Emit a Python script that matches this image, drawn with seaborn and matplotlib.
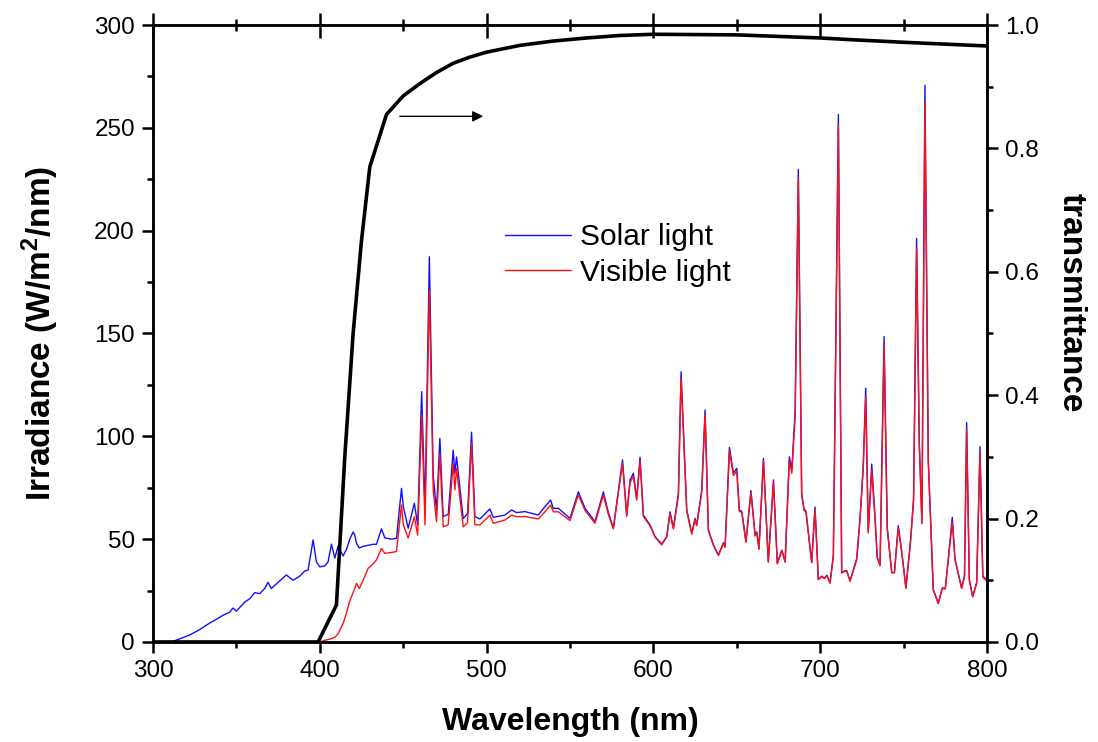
import matplotlib
matplotlib.use("Agg")
import matplotlib.pyplot as plt
from matplotlib.ticker import MultipleLocator
import numpy as np
import pandas as pd
import seaborn as sns

# Lamp spectrum (W/m^2/nm): unfiltered ("Solar light") and filtered ("Visible light")
wavelength = [
    300, 311, 316, 322, 328, 334, 338, 342, 346, 348, 350, 355, 358, 361, 364,
    367, 369, 371, 375, 380, 384, 388, 391, 393, 396, 398, 400, 403, 405, 407,
    409, 411, 414, 416, 418, 420, 421, 422, 423.7, 426, 429, 432, 434, 437, 439,
    443, 446, 449, 450.1, 453, 456.7, 458.7, 461.1, 463.1, 465.7, 468, 470, 472,
    474, 477, 480, 481, 482, 486, 488.6, 491, 493, 496, 502, 504, 511, 515, 518,
    523, 531, 535, 538.4, 540, 543, 550, 555, 559, 565, 570, 573, 576, 581.5,
    584, 586, 588, 590, 592, 594, 598, 601, 605, 608, 610, 612, 615, 616.6, 620,
    623, 625, 626, 629, 631, 633, 636, 639, 642, 643, 645.6, 648, 650, 651.5,
    653, 655.5, 658.5, 661, 662, 663.3, 666, 668.9, 672, 674.3, 677, 679, 681.5,
    683, 685, 686.9, 688.9, 690.3, 691.5, 694.9, 696.9, 698.9, 701, 702.5, 704,
    705.9, 707.9, 710.9, 712.9, 714.5, 715.9, 717.9, 721.9, 723.9, 725.8, 727.3,
    728.8, 730.9, 732.9, 734.2, 735.9, 738.3, 740.2, 742.9, 744.5, 746.8, 748.9,
    751.4, 754.3, 756, 757.8, 759.4, 761, 762.8, 764.8, 767.8, 770.8, 773.2, 775,
    776.8, 779.2, 780.8, 784.8, 786.5, 787.8, 789.4, 791.4, 793.8, 795.8, 797.5,
    800,
]
solar_light = [
    0, 0, 1.5, 3.4, 6, 9.2, 11, 13, 14.5, 16.5, 15, 19.4, 21, 24, 23.5,
    26, 29, 26, 29, 32.6, 30, 32, 34.5, 35, 49.6, 39, 36.5, 37, 39, 47.6,
    40.8, 46.7, 41.8, 45, 50, 53.5, 52, 48, 45.7, 46.5, 47, 47.5, 47.5, 55, 50.6,
    50, 50.4, 74.7, 65.8, 55.3, 67.4, 56.9, 121.7, 64.2, 187.3, 81, 64, 99,
    61, 62, 93.3, 82, 90, 60, 62.5, 102, 61, 59.8, 64.7, 60.6, 61.7, 64.2, 62.9,
    63.4, 61.7, 65.8, 69, 65, 65, 60.1, 73, 65, 58.5, 73, 63, 55.3, 88.5,
    61.7, 78.8, 82, 69.8, 89.8, 61.7, 56.9, 51.2, 47.6, 51.2, 63.3, 55.3, 72.3, 131.4, 64.2,
    52.8, 60.1, 57, 73.9, 112.8, 54.4, 47.2, 42.3, 48.3, 46.5, 94.6, 82, 84.4, 64.2,
    63.5, 48.8, 73.6, 52, 53.5, 45.5, 89.3, 39, 78.8, 38.3, 44.7, 39, 90,
    84, 112.5, 229.7, 72.3, 64.8, 63.5, 38.8, 65.6, 30.5, 32, 31, 32.5,
    28.8, 42.2, 256.5, 33.8, 34.5, 34.7, 29.7, 40.5, 60.6, 85.7, 123.4,
    53.9, 86.5, 60.6, 41.3, 37.2, 148.5, 55.6, 33.8, 33.8, 56.5, 43.9,
    26.3, 50.6, 70, 196.2, 97.4, 58.1, 270.7, 89, 25.5, 18.8, 26.3, 26,
    40.5, 60.6, 40.5, 26.3, 32, 106.7, 30.5, 22.1, 28.8, 95, 32,
    30,
]
visible_light = [
    0, 0, 0, 0, 0, 0, 0, 0, 0, 0, 0, 0, 0, 0, 0,
    0, 0, 0, 0, 0, 0, 0, 0, 0, 0, 0, 0, 0.8, 1.2, 1.6,
    2.3, 4, 9, 14, 20, 24, 26, 28.5, 26, 30, 35.8, 38, 39.9, 45.5, 43.1,
    43.5, 44, 66.6, 56.9, 50.6, 60.9, 52, 110.4, 56.9, 171, 74, 58.5, 91.7,
    56, 57, 86.9, 74, 84.4, 56, 58, 96.6, 57, 56.9, 61.7, 57.7, 59.3, 61.7, 60.9,
    61, 59.8, 63.3, 66.6, 63.3, 63.3, 59, 71.5, 64, 57.7, 71.5, 62, 55, 86.9,
    61, 77.5, 80.5, 69, 88, 61, 56.5, 51, 47.2, 51, 62.5, 55, 71, 128.5, 63.5,
    52.5, 59.5, 56.5, 73, 110.5, 54, 47, 42, 48, 46, 93, 81, 83, 63.5,
    63, 48.5, 72.5, 51.5, 53, 45, 88, 38.8, 77.5, 38, 44.3, 38.8, 88.5,
    82, 110, 225.5, 71.5, 64, 63, 38.5, 64.5, 30.3, 31.7, 30.8, 32.2,
    28.6, 41.5, 251.4, 33.5, 34.2, 34.4, 29.5, 40, 59.5, 84, 119,
    53, 83.5, 59.5, 41, 37, 144.3, 55, 33.6, 33.6, 55.5, 43.5,
    26, 50, 69, 191.2, 95.5, 57.5, 262.3, 87.5, 25.3, 18.6, 26, 25.8,
    40, 58.5, 40, 26, 31.5, 103, 30.2, 22, 28.5, 92, 31.5,
    29.5,
]

# Filter transmittance curve (right axis)
trans_wavelength = [300, 399, 410, 415, 420, 425, 430, 440, 450, 460, 470, 480,
                    490, 500, 520, 540, 560, 580, 600, 650, 700, 720, 750, 800]
transmittance = [0.0, 0.0, 0.06, 0.30, 0.50, 0.65, 0.77, 0.855, 0.885, 0.905,
                 0.923, 0.938, 0.948, 0.956, 0.967, 0.974, 0.979, 0.983, 0.985,
                 0.984, 0.979, 0.976, 0.972, 0.966]

spectra = pd.DataFrame({"wavelength": wavelength,
                        "Solar light": solar_light,
                        "Visible light": visible_light})
trans = pd.DataFrame({"wavelength": trans_wavelength, "transmittance": transmittance})

sns.set_style("ticks")
plt.rcParams["font.family"] = ["Liberation Sans", "DejaVu Sans"]
plt.rcParams["mathtext.fontset"] = "custom"
plt.rcParams["mathtext.bf"] = "Liberation Sans:bold"
plt.rcParams["mathtext.rm"] = "Liberation Sans"
for key in ("text.color", "axes.labelcolor", "xtick.color", "ytick.color",
            "axes.edgecolor"):
    plt.rcParams[key] = "black"

fig = plt.figure(figsize=(10.98, 7.42), dpi=100)
ax = fig.add_axes([0.1393, 0.1348, 0.7596, 0.8315])
ax2 = ax.twinx()

sns.lineplot(data=spectra, x="wavelength", y="Solar light", ax=ax, color="#1010ff",
             linewidth=1.0, sort=False, estimator=None, label="Solar light", legend=False)
sns.lineplot(data=spectra, x="wavelength", y="Visible light", ax=ax, color="#ff1010",
             linewidth=1.0, sort=False, estimator=None, label="Visible light", legend=False)
sns.lineplot(data=trans, x="wavelength", y="transmittance", ax=ax2, color="black",
             linewidth=2.6, sort=False, estimator=None, legend=False)

ax.set_xlim(300, 800)
ax.set_ylim(0, 300)
ax2.set_ylim(0, 1.0)

ax.xaxis.set_major_locator(MultipleLocator(100))
ax.xaxis.set_minor_locator(MultipleLocator(50))
ax.yaxis.set_major_locator(MultipleLocator(50))
ax.yaxis.set_minor_locator(MultipleLocator(25))
ax2.yaxis.set_major_locator(MultipleLocator(0.2))
ax2.yaxis.set_minor_locator(MultipleLocator(0.1))
ax2.yaxis.set_major_formatter(matplotlib.ticker.FormatStrFormatter("%.1f"))

lw = 1.8
for a in (ax, ax2):
    for s in a.spines.values():
        s.set_linewidth(lw)
        s.set_visible(True)
        s.set_color("black")

ax.tick_params(axis="both", which="major", direction="out", length=8, width=lw,
               labelsize=17.5, pad=5)
ax.tick_params(axis="both", which="minor", direction="out", length=4.5, width=lw)
ax.tick_params(axis="x", top=False)
ax2.tick_params(axis="y", which="major", direction="out", length=8, width=lw,
                labelsize=17.5, pad=5)
ax2.tick_params(axis="y", which="minor", direction="out", length=4.5, width=lw)

# Top axis: ticks crossing the frame
ax2.xaxis.set_visible(True)
ax2.tick_params(axis="x", which="major", bottom=False, top=True, labelbottom=False,
                labeltop=False, direction="inout", length=18, width=lw)
ax2.tick_params(axis="x", which="minor", bottom=False, top=True, direction="inout",
                length=8.5, width=lw)
ax2.set_xlabel("")

ax.set_xlabel("Wavelength (nm)", fontsize=23, fontweight="bold", labelpad=18)
ax.set_ylabel(r"Irradiance (W/m$\mathbf{^2}$/nm)", fontsize=24, fontweight="bold",
              labelpad=24)
ax2.set_ylabel("transmittance", fontsize=24, fontweight="bold", rotation=270,
               labelpad=34)
ax2.yaxis.label.set_y(0.55)

# Arrow pointing to the transmittance axis
ax2.annotate("", xy=(498, 0.852), xytext=(448, 0.852),
             arrowprops=dict(arrowstyle="-|>", color="black", lw=1.0,
                             mutation_scale=16, shrinkA=0, shrinkB=0))

handles, labels = ax.get_legend_handles_labels()
ax2.legend(handles, labels, loc="center left", bbox_to_anchor=(0.422, 0.627),
           frameon=False, fontsize=21.5, handlelength=2.2, handletextpad=0.3,
           labelspacing=0.25, borderpad=0, borderaxespad=0)

fig.savefig("out.png", dpi=100)
